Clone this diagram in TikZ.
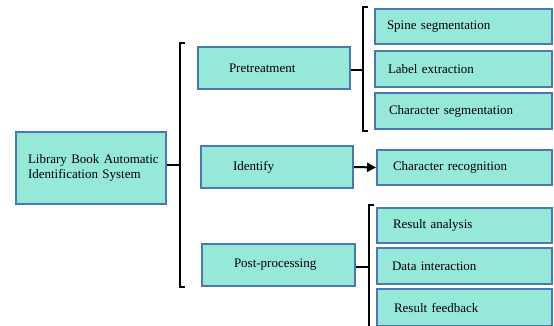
\documentclass[tikz,border=0pt]{standalone}
\usepackage{fontspec}
\setmainfont{Liberation Serif}
\usetikzlibrary{arrows.meta}
\definecolor{boxfill}{HTML}{96E9D9}
\definecolor{boxline}{HTML}{4A79B2}
\begin{document}
\begin{tikzpicture}[x=1pt,y=-1pt,
  box/.style={draw=boxline, fill=boxfill, line width=2pt, inner ysep=0pt,
    font=\fontsize{13}{15}\selectfont},
  lbox/.style={box, align=left},
  brace/.style={line width=2pt, draw=black, line cap=rect},
  conn/.style={line width=2pt, draw=black}]
\useasboundingbox (0,0) rectangle (554,326);
\clip (0,0) rectangle (554,326);
% main
\node[lbox, minimum width=150pt, minimum height=72pt, inner xsep=12pt, text width=126pt] (main) at (91,168) {\mbox{Library Book Automatic}\\\mbox{Identification System}};
% level 1
\node[lbox, minimum width=152pt, minimum height=42pt, inner xsep=31pt, text width=90pt] (pre) at (274,68) {Pretreatment};
\node[lbox, minimum width=152pt, minimum height=42pt, inner xsep=32pt, text width=88pt] (ide) at (277,167) {Identify};
\node[lbox, minimum width=153pt, minimum height=42pt, inner xsep=32pt, text width=89pt] (post) at (278.5,265) {Post-processing};
% level 2
\node[lbox, minimum width=177pt, minimum height=35pt, inner xsep=12pt, text width=153pt] (spine) at (463.5,26.5) {Spine segmentation};
\node[lbox, minimum width=177pt, minimum height=36pt, inner xsep=13pt, text width=151pt] (label) at (463.5,69) {Label extraction};
\node[lbox, minimum width=177pt, minimum height=36pt, inner xsep=14pt, text width=149pt] (charseg) at (463.5,111) {Character segmentation};
\node[lbox, minimum width=175pt, minimum height=35pt, inner xsep=16pt, text width=143pt] (charrec) at (464.5,167.5) {Character recognition};
\node[lbox, minimum width=175pt, minimum height=35pt, inner xsep=16pt, text width=143pt] (ranal) at (464.5,225.5) {Result analysis};
\node[lbox, minimum width=175pt, minimum height=36pt, inner xsep=15pt, text width=145pt] (data) at (464.5,266) {Data interaction};
\node[lbox, minimum width=175pt, minimum height=37pt, inner xsep=17pt, text width=141pt] (feed) at (464.5,307.5) {Result feedback};
% brackets
\coordinate (b1) at (180,165);
\coordinate (b2) at (363,70);
\coordinate (b3) at (369,267);
\draw[brace] (184,43) -- (180,43) -- (180,287) -- (184,287);
\draw[brace] (367,7) -- (363,7) -- (363,131) -- (367,131);
\draw[brace] (373,205) -- (369,205) -- (369,340);
% connectors
\draw[conn] (main.east |- b1) -- (b1);
\draw[conn] (pre.east |- b2) -- (b2);
\draw[conn] (post.east |- b3) -- (b3);
\draw[conn, -{Triangle[length=9pt,width=9pt]}] (ide.east) -- (charrec.west);
\end{tikzpicture}
\end{document}
